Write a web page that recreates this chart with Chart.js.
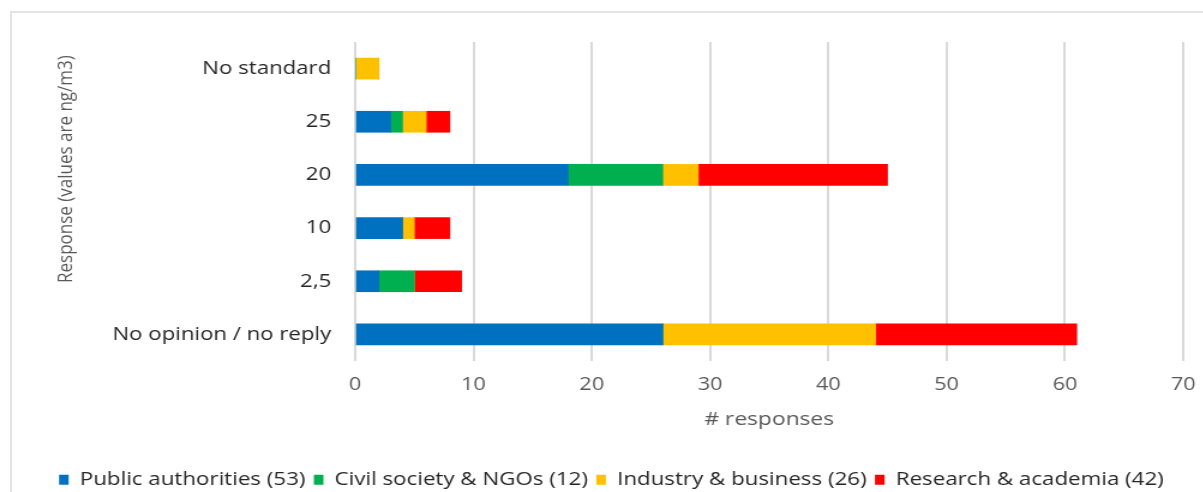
<!DOCTYPE html>
<html>
<head>
<meta charset="utf-8">
<script src="https://cdn.jsdelivr.net/npm/chart.js@4"></script>
<style>
    html, body { margin: 0; padding: 0; background: #fff; overflow: hidden; }
    #frame {
        position: absolute;
        left: 10px;
        top: 11px;
        width: 1220px;
        height: 520px;
        border: 2px solid #e3e3e3;
    }
    /* the source picture is stretched sideways, so stretch the drawing the same way */
    #wrap {
        position: absolute;
        left: 0;
        top: 0;
        width: 1003px;
        height: 492px;
        transform: scaleX(1.2);
        transform-origin: 0 0;
    }
</style>
</head>
<body>
<div id="frame"></div>
<div id="wrap"><canvas id="chart" width="1003" height="492"></canvas></div>
<script>
// Chart data
const categories = ['No standard', '25', '20', '10', '2,5', 'No opinion / no reply'];

const publicAuthorities = [0, 3, 18, 4, 2, 26];
const civilSociety = [0, 1, 8, 0, 3, 0];
const industry = [2, 2, 3, 1, 0, 18];
const research = [0, 2, 16, 3, 4, 17];

const seriesLabels = [
    'Public authorities (53)',
    'Civil society & NGOs (12)',
    'Industry & business (26)',
    'Research & academia (42)'
];
const seriesColors = ['#0070C0', '#00B050', '#FFC000', '#FF0000'];

const xTicks = [0, 10, 20, 30, 40, 50, 60, 70];

const baseFont = "'Open Sans', 'DejaVu Sans', sans-serif";

// Build chart
const ctx = document.getElementById('chart').getContext('2d');
const seriesValues = [publicAuthorities, civilSociety, industry, research];

new Chart(ctx, {
    type: 'bar',
    data: {
        labels: categories,
        datasets: seriesValues.map((vals, i) => ({
            label: seriesLabels[i],
            data: vals,
            backgroundColor: seriesColors[i],
            borderWidth: 0,
            barThickness: 21
        }))
    },
    options: {
        indexAxis: 'y',
        responsive: false,
        animation: false,
        layout: {
            padding: { left: 16, right: 0, top: 42, bottom: -7 }
        },
        plugins: {
            tooltip: { enabled: false },
            legend: {
                position: 'bottom',
                labels: {
                    boxWidth: 8,
                    boxHeight: 10,
                    padding: 7,
                    color: '#262626',
                    font: { family: baseFont, size: 18.6 }
                }
            }
        },
        scales: {
            x: {
                stacked: true,
                min: 0,
                max: 70,
                afterBuildTicks: (scale) => {
                    scale.ticks = xTicks.map(v => ({ value: v }));
                },
                afterFit: (scale) => {
                    // leave room on the right only for half of the "70" label
                    scale.paddingRight = 17;
                },
                grid: {
                    color: '#d9d9d9',
                    lineWidth: 2,
                    drawTicks: false
                },
                border: { display: false },
                ticks: {
                    padding: 13,
                    color: '#595959',
                    font: { family: baseFont, size: 18 }
                },
                title: {
                    display: true,
                    text: '# responses',
                    color: '#595959',
                    font: { family: baseFont, size: 19 },
                    padding: { top: 0, bottom: 32 }
                }
            },
            y: {
                stacked: true,
                grid: { display: false, drawTicks: false },
                border: { display: false },
                afterFit: (scale) => {
                    scale.width = 280;
                },
                ticks: {
                    padding: 20,
                    color: '#262626',
                    font: { family: baseFont, size: 18.5 }
                },
                title: {
                    display: true,
                    // trailing spaces push the text a little down from the top end
                    text: 'Response (values are ng/m3)   ',
                    align: 'end',
                    color: '#595959',
                    font: { family: baseFont, size: 17 },
                    padding: { top: 29, bottom: 0 }
                }
            }
        }
    }
});
</script>
</body>
</html>
